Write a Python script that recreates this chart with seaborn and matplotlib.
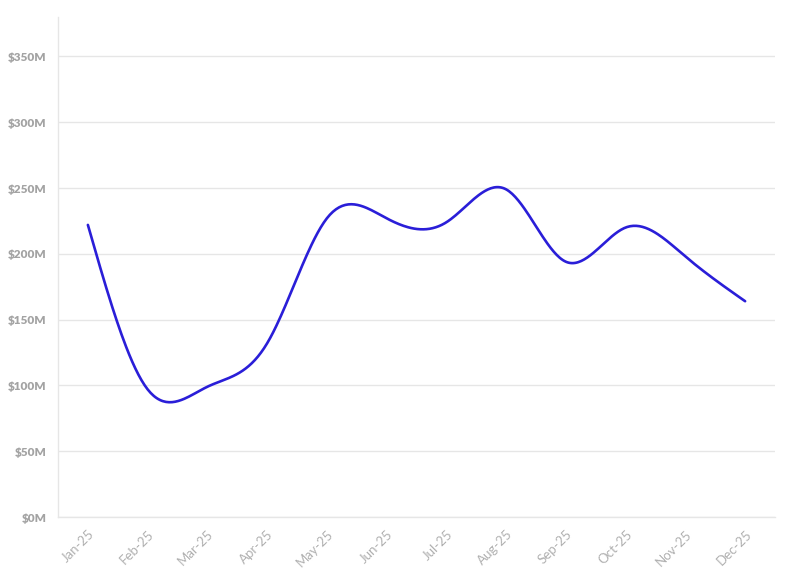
import numpy as np
import pandas as pd
import matplotlib
matplotlib.use("Agg")
import matplotlib.pyplot as plt
import seaborn as sns

months = ["Jan-25", "Feb-25", "Mar-25", "Apr-25", "May-25", "Jun-25",
          "Jul-25", "Aug-25", "Sep-25", "Oct-25", "Nov-25", "Dec-25"]
values = [222, 97, 99, 132, 227, 227, 224, 249, 194, 220, 198, 164]  # $M
y_ticks = [0, 50, 100, 150, 200, 250, 300, 350]
y_tick_labels = ["$0M", "$50M", "$100M", "$150M", "$200M", "$250M", "$300M", "$350M"]

W, H = 794, 575
L, R, B, T = 58, 775, 517, 17
YMAX = 380

sns.set_theme(style="white")
plt.rcParams["font.family"] = ["Lato", "DejaVu Sans"]

# natural cubic spline through the monthly points (display smoothing)
xs = np.arange(len(values), dtype=float)
ys = np.array(values, dtype=float)
n = len(xs)
A = np.zeros((n, n)); rhs = np.zeros(n)
A[0, 0] = 1; A[-1, -1] = 1
for i in range(1, n - 1):
    A[i, i - 1] = 1; A[i, i] = 4; A[i, i + 1] = 1
    rhs[i] = 6 * (ys[i + 1] - 2 * ys[i] + ys[i - 1])
M = np.linalg.solve(A, rhs)
cx, cy = [], []
for i in range(n - 1):
    t = np.linspace(0, 1, 40)
    if i > 0:
        t = t[1:]
    yv = ((1 - t) * ys[i] + t * ys[i + 1]
          + ((1 - t) ** 3 - (1 - t)) * M[i] / 6 + (t ** 3 - t) * M[i + 1] / 6)
    cx.extend(xs[i] + t)
    cy.extend(yv)
curve = pd.DataFrame({"x": cx, "y": cy})

fig = plt.figure(figsize=(W / 100, H / 100), dpi=100)
ax = fig.add_axes([L / W, (H - B) / H, (R - L) / W, (B - T) / H])

sns.lineplot(data=curve, x="x", y="y", sort=False, estimator=None, ax=ax,
             color="#2a1ed8", linewidth=1.9, zorder=3)

ax.set_xlim(-0.5, 11.5)
ax.set_ylim(0, YMAX)
ax.set_xticks(range(len(months)))
ax.set_xticklabels(months, rotation=45, ha="right", rotation_mode="anchor",
                   fontsize=9.5, color="#b0b0b0")
ax.set_yticks(y_ticks)
ax.set_yticklabels(y_tick_labels, fontweight="heavy", fontsize=8.5, color="#a3a3a3")
ax.set_xlabel("")
ax.set_ylabel("")

grid_c = "#e6e6e6"
ax.yaxis.grid(True, color=grid_c, linewidth=1.0)
ax.xaxis.grid(False)
for s in ["top", "right"]:
    ax.spines[s].set_visible(False)
for s in ["left", "bottom"]:
    ax.spines[s].set_color(grid_c)
    ax.spines[s].set_linewidth(1.0)
ax.tick_params(axis="both", which="both", length=5, width=1.0, color=grid_c, pad=3)

fig.savefig("out.png", dpi=100, facecolor="white")
